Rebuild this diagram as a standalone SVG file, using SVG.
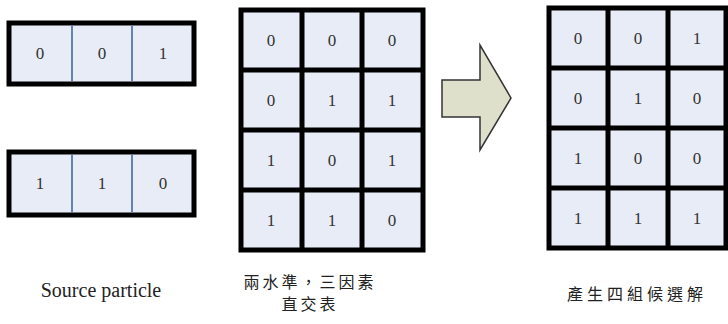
<svg xmlns="http://www.w3.org/2000/svg" width="728" height="324" viewBox="0 0 728 324">
<style>
.cell{fill:#e8ecf6;stroke:#000;stroke-width:5}
.outer{fill:#e8ecf6;stroke:#000;stroke-width:5}
.div{stroke:#6482b4;stroke-width:2}
.d{font-family:"Liberation Serif","DejaVu Serif","Times New Roman",serif;font-size:17px;fill:#333;text-anchor:middle}
.lbl{font-family:"Liberation Serif","DejaVu Serif","Times New Roman",serif;font-size:20px;fill:#222;text-anchor:middle}
.cjk{font-family:"Liberation Serif","Noto Sans CJK TC",sans-serif;font-size:16px;fill:#222;text-anchor:middle;letter-spacing:3px}
</style>
<rect width="728" height="324" fill="#fff"/>
<g id="source-top">
<rect class="outer" x="9" y="23" width="185" height="61"/>
<line class="div" x1="72" y1="26" x2="72" y2="81"/>
<line class="div" x1="132" y1="26" x2="132" y2="81"/>
<text class="d" x="40" y="59">0</text>
<text class="d" x="102" y="59">0</text>
<text class="d" x="163" y="59">1</text>
</g>
<g id="source-bottom">
<rect class="outer" x="9" y="152" width="185" height="63"/>
<line class="div" x1="72" y1="155" x2="72" y2="212"/>
<line class="div" x1="132" y1="155" x2="132" y2="212"/>
<text class="d" x="40" y="189">1</text>
<text class="d" x="102" y="189">1</text>
<text class="d" x="163" y="189">0</text>
</g>
<g id="orthogonal-table">
<rect class="cell" x="241" y="10" width="182" height="240"/>
<path d="M302 10V250M362 10V250M241 70H423M241 130H423M241 190H423" stroke="#000" stroke-width="5" fill="none"/>
<text class="d" x="271" y="46">0</text><text class="d" x="332" y="46">0</text><text class="d" x="392" y="46">0</text>
<text class="d" x="271" y="106">0</text><text class="d" x="332" y="106">1</text><text class="d" x="392" y="106">1</text>
<text class="d" x="271" y="166">1</text><text class="d" x="332" y="166">0</text><text class="d" x="392" y="166">1</text>
<text class="d" x="271" y="226">1</text><text class="d" x="332" y="226">1</text><text class="d" x="392" y="226">0</text>
</g>
<g id="connectors">
<path d="M442 80H480V45L511 98L480 150V117H442Z" fill="#dfe0cc" stroke="#333" stroke-width="1.5" stroke-linejoin="miter"/>
</g>
<g id="candidate-table">
<rect class="cell" x="549" y="8" width="177" height="240"/>
<path d="M608 8V248M668 8V248M549 68H726M549 128H726M549 188H726" stroke="#000" stroke-width="5" fill="none"/>
<text class="d" x="578" y="44">0</text><text class="d" x="638" y="44">0</text><text class="d" x="697" y="44">1</text>
<text class="d" x="578" y="104">0</text><text class="d" x="638" y="104">1</text><text class="d" x="697" y="104">0</text>
<text class="d" x="578" y="164">1</text><text class="d" x="638" y="164">0</text><text class="d" x="697" y="164">0</text>
<text class="d" x="578" y="224">1</text><text class="d" x="638" y="224">1</text><text class="d" x="697" y="224">1</text>
</g>
<g id="labels">
<text class="lbl" x="101" y="297">Source particle</text>
<text class="cjk" x="310" y="288">兩水準，三因素</text>
<text class="cjk" x="310" y="310">直交表</text>
<text class="cjk" x="637" y="300" style="letter-spacing:4px">產生四組候選解</text>
</g>
</svg>
